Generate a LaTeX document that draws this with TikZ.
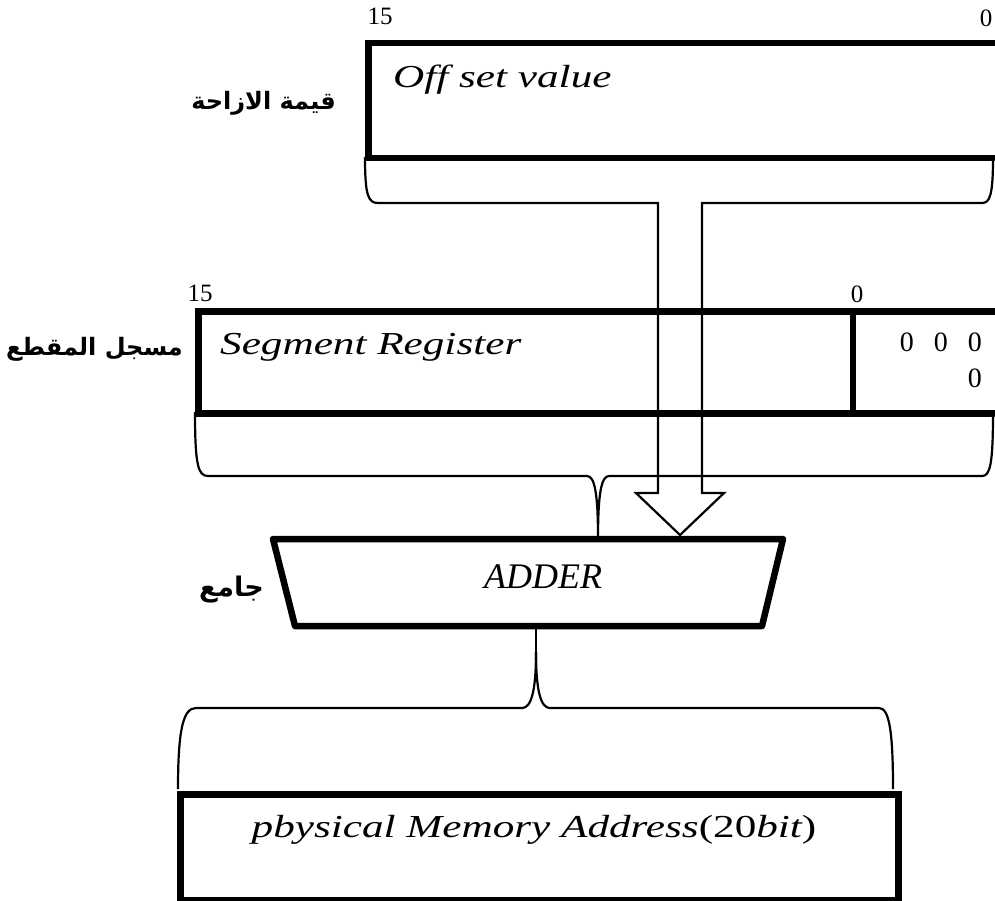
\documentclass[tikz,border=0pt]{standalone}
\usepackage{fontspec}
\setmainfont{Liberation Serif}
\newfontfamily\lblfont{Liberation Serif}[FakeStretch=1.35]
\newfontfamily\arabicfont[Script=Arabic]{DejaVu Sans}
\TeXXeTstate=1
\begin{document}
\begin{tikzpicture}[x=1pt,y=-1pt,
  thickln/.style={line width=6.5pt},
  thinln/.style={line width=2.2pt, line join=miter},
  num/.style={font=\fontsize{25}{30}\selectfont, inner sep=0pt},
  lbl/.style={font=\fontsize{32}{38}\selectfont\lblfont\itshape, inner sep=0pt, anchor=west},
  ar/.style={font=\fontsize{24}{30}\selectfont\arabicfont\bfseries, inner sep=0pt, anchor=east},
  regbox/.style={draw, line width=6.5pt, inner sep=0pt, anchor=north west}]
\useasboundingbox (0,0) rectangle (995,901);
% ---------- offset register ----------
\node[regbox, minimum width=660pt, minimum height=115pt] (offbox) at (365,40) {};
\node[lbl] (offtxt) at (393,80) {Off set value};
\node[num] (offhi) at (380,16) {15};
\node[num] (offlo) at (986,18) {0};
\node[ar] (offar) at (336,103) {\beginR قيمة الازاحة\endR};
% ---------- segment register ----------
\node[regbox, minimum width=830pt, minimum height=102pt] (segbox) at (195,308) {};
\coordinate (divt) at (853,308);
\coordinate (divb) at (853,410);
\draw[thickln] (divt) -- (divb);
\node[lbl] (segtxt) at (220,347) {Segment Register};
\node[num] (seghi) at (200,293) {15};
\node[num] (seglo) at (857,294) {0};
\node[font=\fontsize{28}{36}\selectfont, align=right, inner sep=0pt, anchor=east] (zeros) at (982,360) {0\hspace{20pt}0\hspace{20pt}0\\0};
\node[ar] (segar) at (183,349) {\beginR مسجل المقطع\endR};
% ---------- adder ----------
\coordinate (adtl) at (273,539);
\coordinate (adtr) at (783,539);
\coordinate (adbr) at (762,626);
\coordinate (adbl) at (295,626);
\draw[thickln, line join=round] (adtl) -- (adtr) -- (adbr) -- (adbl) -- cycle;
\node[font=\fontsize{36}{40}\selectfont\itshape, inner sep=0pt] (addtxt) at (543,577) {ADDER};
\node[ar, font=\fontsize{27}{32}\selectfont\arabicfont\bfseries] (addar) at (264,590) {\beginR جامع\endR};
% ---------- physical address ----------
\node[regbox, minimum width=718pt, minimum height=106pt] (physbox) at (177,791) {};
\node[lbl, anchor=center] (phystxt) at (534,830) {pbysical Memory Address{\upshape(20}bit{\upshape)}};
% ---------- offset brace + wide arrow ----------
\coordinate (obl) at (365,157);
\coordinate (obr) at (993,157);
\coordinate (tip) at (680,535);
\draw[thinln] (obl) .. controls (365,195) and (368,203) .. (378,203) -- (658,203) -- (658,493) -- (636,493)
  -- (tip) -- (724,493) -- (702,493) -- (702,203) -- (982,203) .. controls (990,203) and (993,195) .. (obr);
% ---------- segment brace ----------
\coordinate (sbl) at (195,412);
\coordinate (sbr) at (993,412);
\coordinate (stip) at (598,539);
\draw[thinln] (sbl) .. controls (195,465) and (198,476) .. (208,476) -- (587,476)
  .. controls (595,476) and (598,495) .. (stip)
  .. controls (598,495) and (601,476) .. (609,476) -- (982,476)
  .. controls (990,476) and (993,465) .. (sbr);
% ---------- adder output brace ----------
\coordinate (atop) at (536,629);
\coordinate (amid) at (536,652);
\coordinate (pbl) at (178,789);
\coordinate (pbr) at (893,789);
\draw[thinln] (atop) -- (amid);
\draw[thinln] (amid) .. controls (536,692) and (531,708) .. (522,708) -- (196,708)
  .. controls (183,708) and (178,730) .. (pbl);
\draw[thinln] (amid) .. controls (536,692) and (541,708) .. (550,708) -- (879,708)
  .. controls (889,708) and (893,730) .. (pbr);
\end{tikzpicture}
\end{document}
